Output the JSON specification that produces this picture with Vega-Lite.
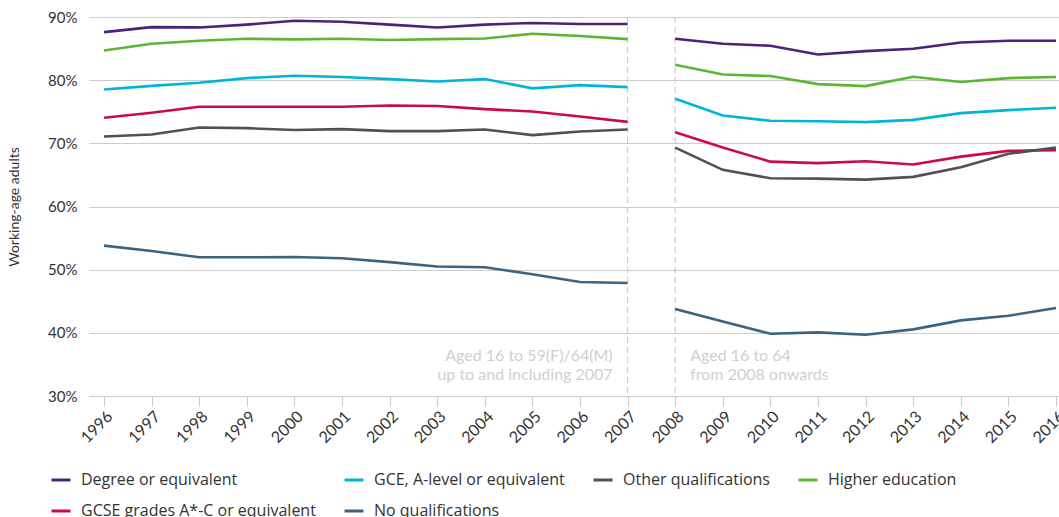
{
  "$schema": "https://vega.github.io/schema/vega-lite/v6.json",
  "width": 970,
  "height": 379,
  "autosize": {"type": "none"},
  "padding": {"left": 89, "top": 17, "right": 0, "bottom": 121},
  "background": "white",
  "config": {
    "font": "Lato",
    "view": {"stroke": null},
    "axis": {"labelFont": "Lato", "titleFont": "Lato", "labelColor": "#333333", "titleColor": "#333333"}
  },
  "datasets": {
    "series": [
      {"series": "Degree or equivalent", "period": "a", "year": 1996, "value": 87.6},
      {"series": "Degree or equivalent", "period": "a", "year": 1997, "value": 88.4},
      {"series": "Degree or equivalent", "period": "a", "year": 1998, "value": 88.35},
      {"series": "Degree or equivalent", "period": "a", "year": 1999, "value": 88.8},
      {"series": "Degree or equivalent", "period": "a", "year": 2000, "value": 89.4},
      {"series": "Degree or equivalent", "period": "a", "year": 2001, "value": 89.25},
      {"series": "Degree or equivalent", "period": "a", "year": 2002, "value": 88.8},
      {"series": "Degree or equivalent", "period": "a", "year": 2003, "value": 88.35},
      {"series": "Degree or equivalent", "period": "a", "year": 2004, "value": 88.8},
      {"series": "Degree or equivalent", "period": "a", "year": 2005, "value": 89.05},
      {"series": "Degree or equivalent", "period": "a", "year": 2006, "value": 88.9},
      {"series": "Degree or equivalent", "period": "a", "year": 2007, "value": 88.9},
      {"series": "Degree or equivalent", "period": "b", "year": 2008, "value": 86.56},
      {"series": "Degree or equivalent", "period": "b", "year": 2009, "value": 85.77},
      {"series": "Degree or equivalent", "period": "b", "year": 2010, "value": 85.45},
      {"series": "Degree or equivalent", "period": "b", "year": 2011, "value": 84.07},
      {"series": "Degree or equivalent", "period": "b", "year": 2012, "value": 84.6},
      {"series": "Degree or equivalent", "period": "b", "year": 2013, "value": 84.98},
      {"series": "Degree or equivalent", "period": "b", "year": 2014, "value": 85.97},
      {"series": "Degree or equivalent", "period": "b", "year": 2015, "value": 86.24},
      {"series": "Degree or equivalent", "period": "b", "year": 2016, "value": 86.24},

      {"series": "Higher education", "period": "a", "year": 1996, "value": 84.7},
      {"series": "Higher education", "period": "a", "year": 1997, "value": 85.77},
      {"series": "Higher education", "period": "a", "year": 1998, "value": 86.24},
      {"series": "Higher education", "period": "a", "year": 1999, "value": 86.56},
      {"series": "Higher education", "period": "a", "year": 2000, "value": 86.45},
      {"series": "Higher education", "period": "a", "year": 2001, "value": 86.56},
      {"series": "Higher education", "period": "a", "year": 2002, "value": 86.35},
      {"series": "Higher education", "period": "a", "year": 2003, "value": 86.5},
      {"series": "Higher education", "period": "a", "year": 2004, "value": 86.6},
      {"series": "Higher education", "period": "a", "year": 2005, "value": 87.35},
      {"series": "Higher education", "period": "a", "year": 2006, "value": 86.98},
      {"series": "Higher education", "period": "a", "year": 2007, "value": 86.5},
      {"series": "Higher education", "period": "b", "year": 2008, "value": 82.44},
      {"series": "Higher education", "period": "b", "year": 2009, "value": 80.9},
      {"series": "Higher education", "period": "b", "year": 2010, "value": 80.65},
      {"series": "Higher education", "period": "b", "year": 2011, "value": 79.38},
      {"series": "Higher education", "period": "b", "year": 2012, "value": 79.06},
      {"series": "Higher education", "period": "b", "year": 2013, "value": 80.54},
      {"series": "Higher education", "period": "b", "year": 2014, "value": 79.7},
      {"series": "Higher education", "period": "b", "year": 2015, "value": 80.33},
      {"series": "Higher education", "period": "b", "year": 2016, "value": 80.49},

      {"series": "GCE, A-level or equivalent", "period": "a", "year": 1996, "value": 78.53},
      {"series": "GCE, A-level or equivalent", "period": "a", "year": 1997, "value": 79.1},
      {"series": "GCE, A-level or equivalent", "period": "a", "year": 1998, "value": 79.6},
      {"series": "GCE, A-level or equivalent", "period": "a", "year": 1999, "value": 80.33},
      {"series": "GCE, A-level or equivalent", "period": "a", "year": 2000, "value": 80.7},
      {"series": "GCE, A-level or equivalent", "period": "a", "year": 2001, "value": 80.49},
      {"series": "GCE, A-level or equivalent", "period": "a", "year": 2002, "value": 80.17},
      {"series": "GCE, A-level or equivalent", "period": "a", "year": 2003, "value": 79.8},
      {"series": "GCE, A-level or equivalent", "period": "a", "year": 2004, "value": 80.17},
      {"series": "GCE, A-level or equivalent", "period": "a", "year": 2005, "value": 78.7},
      {"series": "GCE, A-level or equivalent", "period": "a", "year": 2006, "value": 79.22},
      {"series": "GCE, A-level or equivalent", "period": "a", "year": 2007, "value": 78.9},
      {"series": "GCE, A-level or equivalent", "period": "b", "year": 2008, "value": 77.05},
      {"series": "GCE, A-level or equivalent", "period": "b", "year": 2009, "value": 74.4},
      {"series": "GCE, A-level or equivalent", "period": "b", "year": 2010, "value": 73.57},
      {"series": "GCE, A-level or equivalent", "period": "b", "year": 2011, "value": 73.5},
      {"series": "GCE, A-level or equivalent", "period": "b", "year": 2012, "value": 73.36},
      {"series": "GCE, A-level or equivalent", "period": "b", "year": 2013, "value": 73.72},
      {"series": "GCE, A-level or equivalent", "period": "b", "year": 2014, "value": 74.78},
      {"series": "GCE, A-level or equivalent", "period": "b", "year": 2015, "value": 75.26},
      {"series": "GCE, A-level or equivalent", "period": "b", "year": 2016, "value": 75.63},

      {"series": "GCSE grades A*-C or equivalent", "period": "a", "year": 1996, "value": 74.04},
      {"series": "GCSE grades A*-C or equivalent", "period": "a", "year": 1997, "value": 74.83},
      {"series": "GCSE grades A*-C or equivalent", "period": "a", "year": 1998, "value": 75.78},
      {"series": "GCSE grades A*-C or equivalent", "period": "a", "year": 1999, "value": 75.78},
      {"series": "GCSE grades A*-C or equivalent", "period": "a", "year": 2000, "value": 75.78},
      {"series": "GCSE grades A*-C or equivalent", "period": "a", "year": 2001, "value": 75.78},
      {"series": "GCSE grades A*-C or equivalent", "period": "a", "year": 2002, "value": 75.99},
      {"series": "GCSE grades A*-C or equivalent", "period": "a", "year": 2003, "value": 75.9},
      {"series": "GCSE grades A*-C or equivalent", "period": "a", "year": 2004, "value": 75.42},
      {"series": "GCSE grades A*-C or equivalent", "period": "a", "year": 2005, "value": 75.04},
      {"series": "GCSE grades A*-C or equivalent", "period": "a", "year": 2006, "value": 74.25},
      {"series": "GCSE grades A*-C or equivalent", "period": "a", "year": 2007, "value": 73.4},
      {"series": "GCSE grades A*-C or equivalent", "period": "b", "year": 2008, "value": 71.77},
      {"series": "GCSE grades A*-C or equivalent", "period": "b", "year": 2009, "value": 69.33},
      {"series": "GCSE grades A*-C or equivalent", "period": "b", "year": 2010, "value": 67.1},
      {"series": "GCSE grades A*-C or equivalent", "period": "b", "year": 2011, "value": 66.86},
      {"series": "GCSE grades A*-C or equivalent", "period": "b", "year": 2012, "value": 67.17},
      {"series": "GCSE grades A*-C or equivalent", "period": "b", "year": 2013, "value": 66.64},
      {"series": "GCSE grades A*-C or equivalent", "period": "b", "year": 2014, "value": 67.9},
      {"series": "GCSE grades A*-C or equivalent", "period": "b", "year": 2015, "value": 68.8},
      {"series": "GCSE grades A*-C or equivalent", "period": "b", "year": 2016, "value": 68.92},

      {"series": "Other qualifications", "period": "a", "year": 1996, "value": 71.08},
      {"series": "Other qualifications", "period": "a", "year": 1997, "value": 71.4},
      {"series": "Other qualifications", "period": "a", "year": 1998, "value": 72.5},
      {"series": "Other qualifications", "period": "a", "year": 1999, "value": 72.4},
      {"series": "Other qualifications", "period": "a", "year": 2000, "value": 72.1},
      {"series": "Other qualifications", "period": "a", "year": 2001, "value": 72.25},
      {"series": "Other qualifications", "period": "a", "year": 2002, "value": 71.93},
      {"series": "Other qualifications", "period": "a", "year": 2003, "value": 71.93},
      {"series": "Other qualifications", "period": "a", "year": 2004, "value": 72.19},
      {"series": "Other qualifications", "period": "a", "year": 2005, "value": 71.3},
      {"series": "Other qualifications", "period": "a", "year": 2006, "value": 71.87},
      {"series": "Other qualifications", "period": "a", "year": 2007, "value": 72.19},
      {"series": "Other qualifications", "period": "b", "year": 2008, "value": 69.33},
      {"series": "Other qualifications", "period": "b", "year": 2009, "value": 65.8},
      {"series": "Other qualifications", "period": "b", "year": 2010, "value": 64.48},
      {"series": "Other qualifications", "period": "b", "year": 2011, "value": 64.42},
      {"series": "Other qualifications", "period": "b", "year": 2012, "value": 64.26},
      {"series": "Other qualifications", "period": "b", "year": 2013, "value": 64.69},
      {"series": "Other qualifications", "period": "b", "year": 2014, "value": 66.22},
      {"series": "Other qualifications", "period": "b", "year": 2015, "value": 68.34},
      {"series": "Other qualifications", "period": "b", "year": 2016, "value": 69.33},

      {"series": "No qualifications", "period": "a", "year": 1996, "value": 53.8},
      {"series": "No qualifications", "period": "a", "year": 1997, "value": 52.96},
      {"series": "No qualifications", "period": "a", "year": 1998, "value": 51.96},
      {"series": "No qualifications", "period": "a", "year": 1999, "value": 51.96},
      {"series": "No qualifications", "period": "a", "year": 2000, "value": 52.0},
      {"series": "No qualifications", "period": "a", "year": 2001, "value": 51.8},
      {"series": "No qualifications", "period": "a", "year": 2002, "value": 51.2},
      {"series": "No qualifications", "period": "a", "year": 2003, "value": 50.5},
      {"series": "No qualifications", "period": "a", "year": 2004, "value": 50.38},
      {"series": "No qualifications", "period": "a", "year": 2005, "value": 49.27},
      {"series": "No qualifications", "period": "a", "year": 2006, "value": 48.05},
      {"series": "No qualifications", "period": "a", "year": 2007, "value": 47.9},
      {"series": "No qualifications", "period": "b", "year": 2008, "value": 43.77},
      {"series": "No qualifications", "period": "b", "year": 2009, "value": 41.8},
      {"series": "No qualifications", "period": "b", "year": 2010, "value": 39.85},
      {"series": "No qualifications", "period": "b", "year": 2011, "value": 40.07},
      {"series": "No qualifications", "period": "b", "year": 2012, "value": 39.7},
      {"series": "No qualifications", "period": "b", "year": 2013, "value": 40.55},
      {"series": "No qualifications", "period": "b", "year": 2014, "value": 41.97},
      {"series": "No qualifications", "period": "b", "year": 2015, "value": 42.7},
      {"series": "No qualifications", "period": "b", "year": 2016, "value": 43.93}
    ],
    "rules": [{"year": 2007}, {"year": 2008}],
    "notes": [
      {"year": 2007, "value": 36.4, "text": "Aged 16 to 59(F)/64(M)", "side": "left"},
      {"year": 2007, "value": 33.3, "text": "up to and including 2007", "side": "left"},
      {"year": 2008, "value": 36.4, "text": "Aged 16 to 64", "side": "right"},
      {"year": 2008, "value": 33.3, "text": "from 2008 onwards", "side": "right"}
    ]
  },
  "layer": [
    {
      "data": {"name": "rules"},
      "mark": {"type": "rule", "color": "#cccccc", "strokeWidth": 1.2, "strokeDash": [6, 4]},
      "encoding": {
        "x": {"field": "year", "type": "quantitative", "scale": {"domain": [1995.685, 2016.063], "nice": false, "zero": false}}
      }
    },
    {
      "data": {"name": "notes"},
      "transform": [{"filter": "datum.side == 'left'"}],
      "mark": {"type": "text", "align": "right", "baseline": "middle", "dx": -15, "fontSize": 16, "color": "#cfcfcf", "font": "Lato"},
      "encoding": {
        "x": {"field": "year", "type": "quantitative"},
        "y": {"field": "value", "type": "quantitative"},
        "text": {"field": "text"}
      }
    },
    {
      "data": {"name": "notes"},
      "transform": [{"filter": "datum.side == 'right'"}],
      "mark": {"type": "text", "align": "left", "baseline": "middle", "dx": 15, "fontSize": 16, "color": "#cfcfcf", "font": "Lato"},
      "encoding": {
        "x": {"field": "year", "type": "quantitative"},
        "y": {"field": "value", "type": "quantitative"},
        "text": {"field": "text"}
      }
    },
    {
      "data": {"name": "series"},
      "mark": {"type": "line", "strokeWidth": 2.6},
      "encoding": {
        "x": {
          "field": "year", "type": "quantitative",
          "scale": {"domain": [1995.685, 2016.063], "nice": false, "zero": false},
          "axis": {
            "title": null,
            "values": [1996,1997,1998,1999,2000,2001,2002,2003,2004,2005,2006,2007,2008,2009,2010,2011,2012,2013,2014,2015,2016],
            "format": "d",
            "labelAngle": -45,
            "labelFontSize": 16,
            "labelPadding": 2,
            "tickSize": 10,
            "tickColor": "#cccccc",
            "domainColor": "#cccccc",
            "grid": false
          }
        },
        "y": {
          "field": "value", "type": "quantitative",
          "scale": {"domain": [30, 90], "nice": false, "zero": false},
          "axis": {
            "title": "Working-age adults",
            "titleFontSize": 14,
            "titleFontWeight": "normal",
            "titlePadding": 26,
            "values": [30, 40, 50, 60, 70, 80, 90],
            "labelExpr": "datum.value + '%'",
            "labelFontSize": 15,
            "labelPadding": 12,
            "ticks": false,
            "domain": false,
            "grid": true,
            "gridColor": "#cccccc",
            "gridWidth": 1
          }
        },
        "color": {
          "field": "series", "type": "nominal",
          "scale": {
            "domain": ["Degree or equivalent", "GCE, A-level or equivalent", "Other qualifications", "Higher education", "GCSE grades A*-C or equivalent", "No qualifications"],
            "range": ["#4b2378", "#00b5d9", "#55504c", "#5db534", "#cc0a46", "#3c6381"]
          },
          "legend": {
            "title": null,
            "orient": "none",
            "legendX": -39,
            "legendY": 452,
            "direction": "horizontal",
            "columns": 4,
            "gridAlign": "each",
            "symbolType": "stroke",
            "symbolSize": 360,
            "symbolStrokeWidth": 3,
            "labelFontSize": 16,
            "labelColor": "#333333",
            "labelFont": "Open Sans",
            "labelOffset": 9,
            "labelLimit": 400,
            "columnPadding": 22,
            "rowPadding": 12
          }
        },
        "detail": {"field": "period"}
      }
    }
  ]
}
